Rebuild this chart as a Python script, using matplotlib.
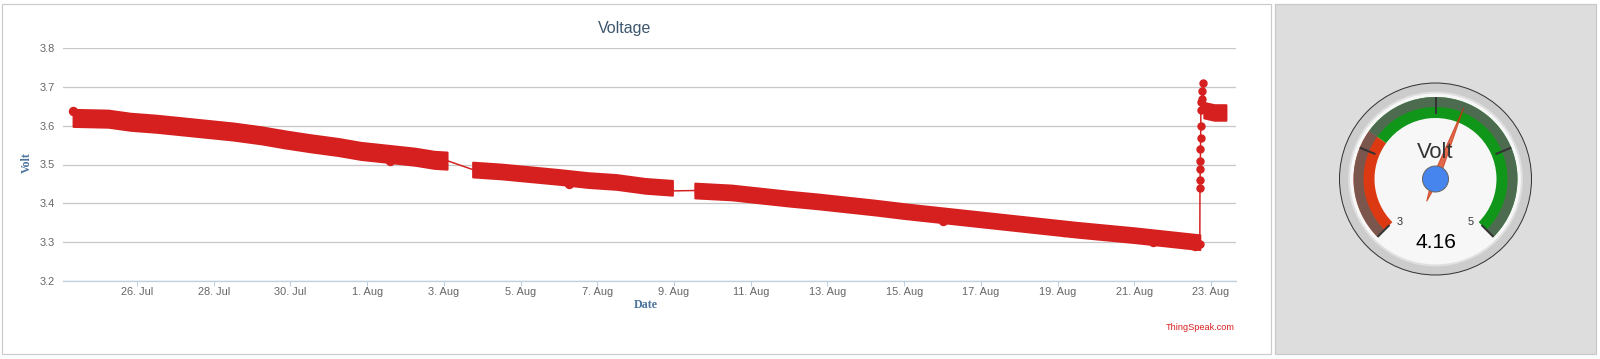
import matplotlib
matplotlib.use("Agg")
import matplotlib.pyplot as plt
import matplotlib.dates as mdates
from matplotlib.patches import Rectangle, Circle, Wedge, Polygon
from matplotlib.ticker import FuncFormatter, FixedLocator
import numpy as np
import pandas as pd

W, H = 1600, 359
PX = 0.72  # points per pixel at dpi 100
RED = "#d62020"
FONT = "Liberation Sans"

# ---- voltage trace, band centre values (V) ----
drop1_times = ["2015-07-24 08:00", "2015-07-25 06:00", "2015-07-25 20:00", "2015-07-26 12:00",
               "2015-07-27 12:00", "2015-07-28 12:00", "2015-07-29 06:00", "2015-07-29 20:00",
               "2015-07-30 12:00", "2015-07-31 06:00", "2015-07-31 20:00", "2015-08-01 12:00",
               "2015-08-02 06:00", "2015-08-02 18:00", "2015-08-03 02:00"]
drop1_volts = [3.620, 3.618, 3.610, 3.605, 3.595, 3.585, 3.575, 3.565,
               3.555, 3.545, 3.535, 3.528, 3.520, 3.512, 3.510]

drop2_times = ["2015-08-03 18:00", "2015-08-04 12:00", "2015-08-05 06:00", "2015-08-06 00:00",
               "2015-08-06 18:00", "2015-08-07 12:00", "2015-08-08 06:00", "2015-08-08 23:00"]
drop2_volts = [3.487, 3.482, 3.475, 3.468, 3.460, 3.455, 3.445, 3.440]

drop3_times = ["2015-08-09 13:00", "2015-08-10 12:00", "2015-08-11 06:00", "2015-08-12 00:00",
               "2015-08-12 18:00", "2015-08-13 12:00", "2015-08-14 06:00", "2015-08-15 00:00",
               "2015-08-15 18:00", "2015-08-16 12:00", "2015-08-17 06:00", "2015-08-18 00:00",
               "2015-08-18 18:00", "2015-08-19 12:00", "2015-08-20 06:00", "2015-08-21 00:00",
               "2015-08-21 18:00", "2015-08-22 12:00", "2015-08-22 17:00"]
drop3_volts = [3.433, 3.428, 3.420, 3.412, 3.405, 3.397, 3.389, 3.380,
               3.372, 3.364, 3.356, 3.348, 3.340, 3.332, 3.325, 3.318,
               3.310, 3.302, 3.300]

# recharge spike
rise_times = ["2015-08-22 17:00", "2015-08-22 17:05", "2015-08-22 17:10", "2015-08-22 17:15",
              "2015-08-22 17:20", "2015-08-22 17:25", "2015-08-22 17:30", "2015-08-22 17:35",
              "2015-08-22 17:40", "2015-08-22 17:55", "2015-08-22 18:10", "2015-08-22 18:40",
              "2015-08-22 19:00", "2015-08-22 19:30"]
rise_volts = [3.295, 3.439, 3.460, 3.488, 3.509, 3.540, 3.568, 3.599,
              3.640, 3.661, 3.668, 3.690, 3.710, 3.650]

after_times = ["2015-08-22 19:30", "2015-08-23 02:00", "2015-08-23 09:20"]
after_volts = [3.640, 3.634, 3.634]

# stray readings sticking out of the band
stray_times = ["2015-07-24 08:00", "2015-07-29 18:00", "2015-08-01 14:00", "2015-08-06 06:00",
               "2015-08-16 00:00", "2015-08-19 04:00", "2015-08-21 12:00", "2015-08-22 14:00"]
stray_volts = [3.638, 3.578, 3.508, 3.450, 3.355, 3.326, 3.300, 3.290]

y_ticks = [3.2, 3.3, 3.4, 3.5, 3.6, 3.7, 3.8]
x_ticks = ["2015-07-26", "2015-07-28", "2015-07-30", "2015-08-01", "2015-08-03",
           "2015-08-05", "2015-08-07", "2015-08-09", "2015-08-11", "2015-08-13",
           "2015-08-15", "2015-08-17", "2015-08-19", "2015-08-21", "2015-08-23"]

# ---- gauge ----
gauge_min, gauge_max = 3, 5
red_to = 3.6
gauge_value = 4.16
gauge_major = [3, 3.5, 4, 4.5, 5]
gauge_label = "Volt"

fig = plt.figure(figsize=(W / 100, H / 100), dpi=100)
fig.patch.set_facecolor("white")

# background layer in pixel coordinates (panels, texts, gauge)
bg = fig.add_axes([0, 0, 1, 1], zorder=0)
bg.set_xlim(0, W)
bg.set_ylim(H, 0)
bg.axis("off")
bg.add_patch(Rectangle((2, 4), 1269, 350, facecolor="white", edgecolor="#cccccc", lw=1.2 * PX))
bg.add_patch(Rectangle((1275, 4), 321, 350, facecolor="#dddddd", edgecolor="#c8c8c8", lw=1.2 * PX))

bg.text(625, 28, "Voltage", ha="center", va="center", fontsize=16 * PX,
        color="#3E576F", family=FONT)
bg.text(27, 163, "Volt", ha="center", va="center", rotation=90, fontsize=12 * PX,
        color="#4d759e", weight="bold", family="Liberation Serif")
bg.text(646, 305, "Date", ha="center", va="center", fontsize=12 * PX,
        color="#4d759e", weight="bold", family="Liberation Serif")
bg.text(1235, 327, "ThingSpeak.com", ha="right", va="center", fontsize=9.2 * PX,
        color=RED, family=FONT)

# ---- line chart ----
ax = fig.add_axes([63 / W, 1 - 281 / H, (1236 - 63) / W, (281 - 48) / H], zorder=1)
ax.set_facecolor("none")

to_dt = pd.to_datetime
# (times, volts, half band height in V)
segments = [(drop1_times, drop1_volts, 0.022), (drop2_times, drop2_volts, 0.019),
            (drop3_times, drop3_volts, 0.019), (after_times, after_volts, 0.02)]
for times, volts, hw in segments:
    v = np.array(volts)
    ax.fill_between(to_dt(times), v - hw, v + hw, color=RED, lw=2 * PX,
                    edgecolor=RED, joinstyle="round")

# connecting lines across the gaps
ax.plot(to_dt([drop1_times[-1], drop2_times[0]]), [drop1_volts[-1], drop2_volts[0]],
        color=RED, lw=1.5 * PX)
ax.plot(to_dt([drop2_times[-1], drop3_times[0]]), [drop2_volts[-1] - 0.008, drop3_volts[0]],
        color=RED, lw=1.5 * PX)
ax.plot(to_dt(rise_times), rise_volts, color=RED, lw=1.5 * PX, marker="o",
        ms=7 * PX, mec=RED, mfc=RED)
ax.plot(to_dt(stray_times), stray_volts, ls="none", marker="o", ms=8 * PX, color=RED)

t0 = to_dt(drop1_times[0]) - pd.Timedelta(hours=6.3)
t1 = to_dt(after_times[-1]) + pd.Timedelta(hours=6.3)
ax.set_xlim(t0, t1)
ax.set_ylim(3.2, 3.8)

ax.yaxis.set_major_locator(FixedLocator(y_ticks))
ax.yaxis.set_major_formatter(FuncFormatter(lambda v, p: f"{v:.1f}"))
ax.xaxis.set_major_locator(FixedLocator(mdates.date2num(to_dt(x_ticks))))
ax.xaxis.set_major_formatter(FuncFormatter(
    lambda v, p: f"{mdates.num2date(v).day}. {mdates.num2date(v):%b}"))

ax.grid(axis="y", color="#c8c8c8", lw=1.3 * PX)
ax.set_axisbelow(True)
for side in ("top", "right", "left"):
    ax.spines[side].set_visible(False)
ax.spines["bottom"].set_color("#C0D0E0")
ax.spines["bottom"].set_linewidth(1.3 * PX)
ax.tick_params(axis="y", length=0, pad=8 * PX, labelsize=11 * PX, labelcolor="#666666")
ax.tick_params(axis="x", length=5 * PX, width=1 * PX, color="#C0D0E0", pad=1,
               labelsize=11 * PX, labelcolor="#666666")
for lab in ax.get_xticklabels() + ax.get_yticklabels():
    lab.set_family(FONT)

# ---- gauge ----
cx, cy, R = 1435.5, 179, 96


def ang(v):
    # degrees clockwise from the top, 270 degree sweep
    return (v - (gauge_min + gauge_max) / 2) / (gauge_max - gauge_min) * 270


def pt(v, r):
    a = np.radians(ang(v))
    return cx + r * np.sin(a), cy - r * np.cos(a)


def theta(v):
    return ang(v) - 90  # wedge angle in the y-down pixel frame


bg.add_patch(Circle((cx, cy), R, facecolor="#cccccc", edgecolor="#333333", lw=1 * PX))
bg.add_patch(Circle((cx, cy), R * 0.9, facecolor="#f7f7f7", edgecolor="#e0e0e0", lw=2 * PX))
bg.add_patch(Wedge((cx, cy), 82, theta(gauge_min), theta(red_to), width=21,
                   facecolor="#dc3912", edgecolor="none"))
bg.add_patch(Wedge((cx, cy), 82, theta(red_to), theta(gauge_max), width=21,
                   facecolor="#109618", edgecolor="none"))
bg.add_patch(Wedge((cx, cy), 82, theta(gauge_min), theta(gauge_max), width=10,
                   facecolor="#5f5f5f", alpha=0.78, edgecolor="none"))
for v in gauge_major:
    (x1, y1), (x2, y2) = pt(v, 65), pt(v, 82)
    bg.plot([x1, x2], [y1, y2], color="#333333", lw=2 * PX, solid_capstyle="butt")
for v, dx in ((gauge_min, 4), (gauge_max, -4)):
    x, y = pt(v, 56)
    bg.text(x + dx, y + 3, f"{v}", ha="center", va="center",
            fontsize=11 * PX, color="#333333", family=FONT)

bg.text(cx, 152, gauge_label, ha="center", va="center", fontsize=22 * PX,
        color="#333333", family=FONT)
bg.text(cx, 242, f"{gauge_value:.2f}", ha="center", va="center", fontsize=21 * PX,
        color="black", family=FONT)

a = np.radians(ang(gauge_value))
tip = pt(gauge_value, 77)
tail = (cx - 24 * np.sin(a), cy + 24 * np.cos(a))
side1 = (cx + 3.5 * np.cos(a), cy + 3.5 * np.sin(a))
side2 = (cx - 3.5 * np.cos(a), cy - 3.5 * np.sin(a))
bg.add_patch(Polygon([tip, side1, tail, side2], closed=True, facecolor="#dc3912",
                     alpha=0.75, edgecolor="#c63310", lw=1 * PX))
bg.add_patch(Circle((cx, cy), 13, facecolor="#4684ee", edgecolor="#666666", lw=1 * PX))

fig.savefig("out.png", dpi=100)
